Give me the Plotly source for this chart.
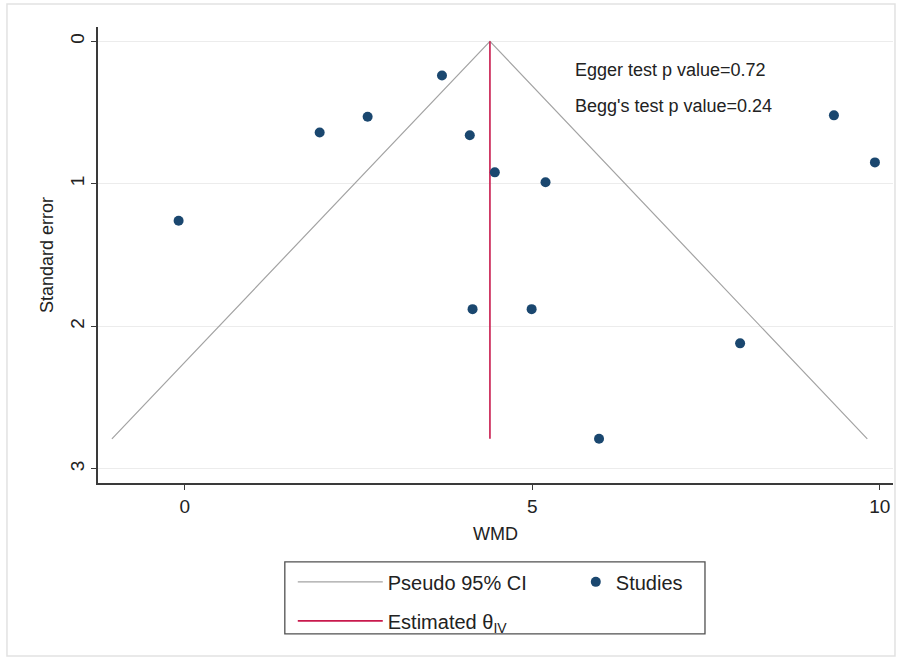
import plotly.graph_objects as go

# Study estimates (WMD) and their standard errors
wmd = [3.70, 1.94, 2.63, 4.10, 4.46, 5.19, -0.09, 4.14, 4.99, 7.99, 5.96, 9.34, 9.93]
se = [0.24, 0.64, 0.53, 0.66, 0.92, 0.99, 1.26, 1.88, 1.88, 2.12, 2.79, 0.52, 0.85]

# Pseudo 95% CI funnel (left bottom, apex, right bottom)
ci_x = [-1.05, 4.39, 9.82]
ci_y = [2.79, 0.0, 2.79]

# Estimated theta (IV) line
theta_x = [4.39, 4.39]
theta_y = [0.0, 2.79]

x_ticks = [0, 5, 10]
y_ticks = [0, 1, 2, 3]

notes = ["Egger test p value=0.72", "Begg's test p value=0.24"]
notes_x = [5.58, 5.58]
notes_y = [0.20, 0.455]

FONT = "Liberation Sans, Arial, Helvetica, sans-serif"
NAVY = "#1a476f"
RED = "#c8194c"
GRAY = "#a3a3a3"

fig = go.Figure()
fig.add_trace(go.Scatter(
    x=ci_x, y=ci_y, mode="lines", name="Pseudo 95% CI",
    line=dict(color=GRAY, width=1.2), legend="legend", legendgroup="a",
    hoverinfo="skip"))
fig.add_trace(go.Scatter(
    x=theta_x, y=theta_y, mode="lines", name="Estimated θ<sub>IV</sub>",
    line=dict(color=RED, width=1.6), legend="legend", legendgroup="b",
    hoverinfo="skip"))
fig.add_trace(go.Scatter(
    x=wmd, y=se, mode="markers", name="Studies",
    marker=dict(color=NAVY, size=10), legend="legend2"))

for t, xx, yy in zip(notes, notes_x, notes_y):
    fig.add_annotation(x=xx, y=yy, xref="x", yref="y", text=t, showarrow=False,
                       xanchor="left", yanchor="middle",
                       font=dict(family=FONT, size=18, color="#222"))

axis_common = dict(showline=True, linecolor="#3a3a3a", linewidth=1.5,
                   ticks="outside", ticklen=5, tickcolor="#3a3a3a", tickwidth=1.2,
                   zeroline=False, mirror=False)

fig.update_layout(
    width=902, height=663,
    margin=dict(l=98, r=9, t=27, b=180),
    paper_bgcolor="white", plot_bgcolor="white",
    font=dict(family=FONT, color="#222"),
    xaxis=dict(range=[-1.25, 10.19], tickvals=x_ticks, showgrid=False,
               tickfont=dict(size=19),
               title=dict(text="WMD", font=dict(size=18), standoff=12),
               **axis_common),
    yaxis=dict(range=[3.10, -0.10], tickvals=y_ticks, showgrid=True,
               gridcolor="#ececec", gridwidth=1, tickangle=-90,
               tickfont=dict(size=19),
               title=dict(text="Standard error", font=dict(size=18), standoff=8),
               **axis_common),
    legend=dict(x=0.245, y=-0.174, xanchor="left", yanchor="top",
                orientation="v", bgcolor="rgba(0,0,0,0)", borderwidth=0,
                font=dict(size=20), tracegroupgap=10, itemwidth=85),
    legend2=dict(x=0.601, y=-0.174, xanchor="left", yanchor="top",
                 orientation="v", bgcolor="rgba(0,0,0,0)", borderwidth=0,
                 font=dict(size=20)),
    shapes=[
        dict(type="rect", xref="paper", yref="paper",
             x0=-0.1145, x1=1.0025, y0=-0.3794, y1=1.0504,
             line=dict(color="#e2e2e2", width=1.5), layer="below"),
        dict(type="rect", xref="paper", yref="paper",
             x0=0.235, x1=0.7635, y0=-0.331, y1=-0.173,
             line=dict(color="#505050", width=1.3)),
    ],
    showlegend=True,
)

fig.write_html("out.html")
